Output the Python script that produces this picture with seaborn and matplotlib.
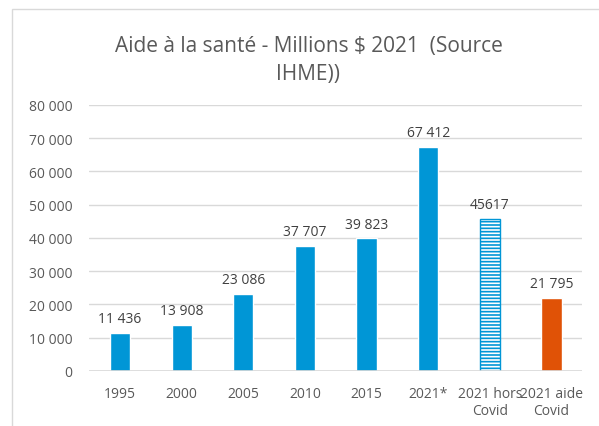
# -*- coding:utf-8 -*-

import matplotlib
matplotlib.use("Agg")
import matplotlib.pyplot as plt
import seaborn as sns
import pandas
from matplotlib.patches import Rectangle
from matplotlib.ticker import FuncFormatter

categories = ["1995", "2000", "2005", "2010", "2015", "2021*", "2021 hors\nCovid", "2021 aide\nCovid"]
values = [11436, 13908, 23086, 37707, 39823, 67412, 45617, 21795]
value_labels = ["11 436", "13 908", "23 086", "37 707", "39 823", "67 412", "45617", "21 795"]
colors = ["#0096D6"] * 6 + ["#FFFFFF", "#E05206"]

BLUE = "#0096D6"
GREY = "#595959"


def show():
    df = pandas.DataFrame({"cat": categories, "val": values})

    sns.set_style("white")
    plt.rcParams['font.family'] = ['Open Sans', 'DejaVu Sans']
    plt.rcParams['hatch.linewidth'] = 1.2

    fig = plt.figure(figsize=(5.99, 4.27), dpi=100)
    ax = fig.add_axes([0.149, 0.129, 0.823, 0.623])

    sns.barplot(data=df, x="cat", y="val", hue="cat", palette=colors,
                legend=False, width=0.33, saturation=1, ax=ax)

    # hatched "hors Covid" bar
    hb = ax.patches[6]
    hb.set_facecolor("white")
    hb.set_edgecolor(BLUE)
    hb.set_hatch("-----")
    hb.set_linewidth(1.0)

    for p, lab in zip(ax.patches, value_labels):
        ax.annotate(lab, (p.get_x() + p.get_width() / 2, p.get_height()),
                    xytext=(0, 5), textcoords="offset points",
                    ha="center", va="bottom", fontsize=10, color="#404040")

    ax.set_ylim(0, 80000)
    ax.set_yticks(range(0, 80001, 10000))
    ax.yaxis.set_major_formatter(FuncFormatter(lambda v, _: f"{int(v):,}".replace(",", " ")))
    ax.set_xlim(-0.5, 7.5)
    ax.grid(axis="y", color="#D9D9D9", linewidth=1)
    ax.set_axisbelow(True)
    for s in ax.spines.values():
        s.set_visible(False)
    ax.axhline(0, color="#D9D9D9", linewidth=1.2)
    ax.set_xlabel("")
    ax.set_ylabel("")
    ax.tick_params(axis="both", length=0, labelsize=10, labelcolor=GREY)
    ax.tick_params(axis="x", pad=11)
    ax.tick_params(axis="y", pad=12)

    fig.text(0.515, 0.858, "Aide à la santé - Millions $ 2021  (Source\nIHME))",
             ha="center", va="center", fontsize=15, color=GREY, linespacing=1.45)

    # chart frame
    fig.patches.append(Rectangle((12 / 599, -0.05), 1.1, 1 - 10 / 427 + 0.05,
                                 transform=fig.transFigure, fill=False,
                                 edgecolor="#D9D9D9", linewidth=1))

    plt.savefig("out.png", dpi=100)


if __name__ == '__main__':
    show()
